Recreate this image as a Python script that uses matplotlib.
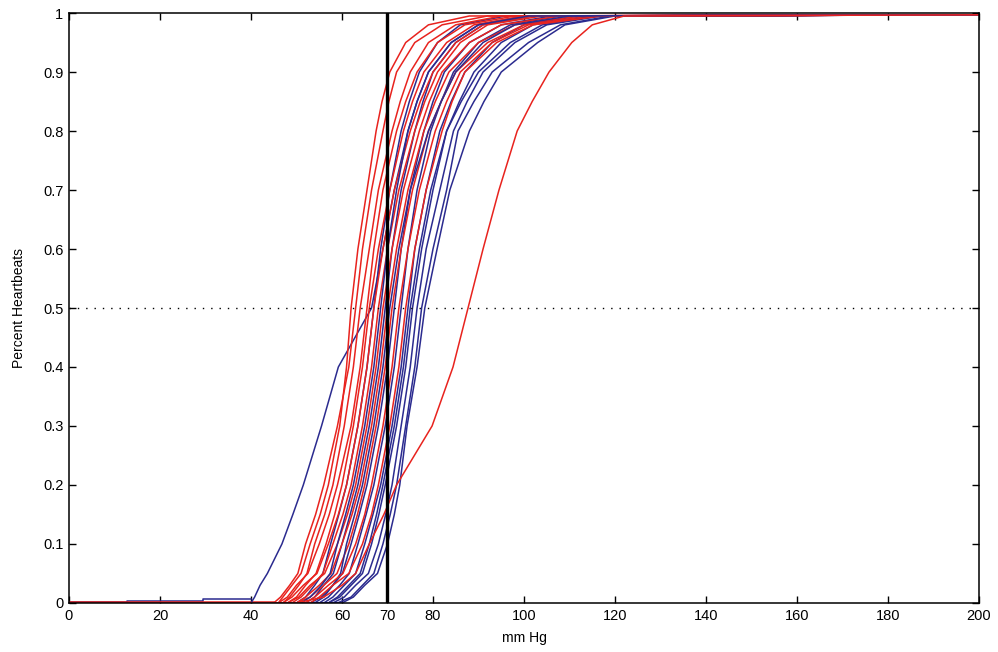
import numpy as np
import matplotlib
matplotlib.use("Agg")
import matplotlib.pyplot as plt
from matplotlib.ticker import FormatStrFormatter

plt.rcParams['font.family'] = ['Liberation Sans', 'DejaVu Sans']

levels = [0, 0.01, 0.03, 0.05, 0.1, 0.15, 0.2, 0.3, 0.4, 0.5, 0.6, 0.7,
          0.8, 0.85, 0.9, 0.95, 0.98, 0.995]

# mm Hg at each level, red group
red_curves = [
    [46, 47, 49, 51, 53, 55.2, 57, 59.5, 61, 62, 63.5, 65.5, 67.5, 68.8, 70.5, 74, 79, 88],
    [45, 46.5, 48.5, 50.3, 52, 54.2, 56, 59, 61.5, 63, 64.5, 66.5, 69, 70.3, 72, 76, 82, 92],
    [47, 48.5, 50.5, 52.3, 54, 56.2, 58, 60.5, 62.5, 64, 66, 68, 71, 72.8, 75, 79, 85, 95],
    [46, 48, 50, 52.5, 55, 57.2, 59, 62, 64, 65.5, 67, 69, 72, 74, 76.5, 81, 87, 98],
    [48, 50, 52, 54.3, 56.5, 58.4, 60, 62.5, 64.5, 66, 68, 70.5, 73.5, 75.5, 78, 83, 89, 100],
    [47, 49, 51.5, 54.5, 57, 59.2, 61, 63.5, 65.5, 67, 69, 71.5, 75, 77.2, 80, 85, 91, 102],
    [49, 51, 53.5, 55.8, 58, 60.2, 62, 64.5, 66.5, 68, 70, 72.5, 76, 78.2, 81, 86, 92, 104],
    [48, 50.5, 53, 56.2, 59, 61.2, 63, 65.5, 67.5, 69, 71, 73.5, 77, 79.2, 82, 88, 95, 108],
    [50, 52, 55, 57.6, 60, 62.2, 64, 66.5, 68.5, 70, 72, 74.5, 78, 80.5, 83.5, 90, 98, 112],
    [50, 53, 56, 58.9, 61.5, 63.4, 65, 67.5, 69.5, 71, 73, 75.5, 79, 81.8, 85, 92, 100, 115],
    [52, 54, 57, 60.2, 63, 65, 66.5, 69, 71, 72.5, 74.5, 77, 80.5, 83, 86, 93, 101, 116],
    [53, 55, 58, 61.5, 64.5, 66.5, 68, 70.5, 72.5, 74, 76, 78.5, 82, 84.2, 87, 94, 102, 117],
    [50, 56, 60, 63, 66, 69.2, 72, 79.8, 84.4, 87.7, 91, 94.5, 98.5, 101.8, 105.5, 110.5, 115, 122],
]

# mm Hg at each level, blue group
blue_curves = [
    [40, 40.8, 42, 43.6, 46.8, 49.2, 51.5, 55.5, 59.2, 66.5, 69, 71.5, 74.5, 76.5, 79, 84, 90, 100],
    [50, 52, 54, 55.8, 57.5, 59.3, 61, 63.5, 65.5, 67, 68.5, 70.5, 73, 74.8, 77, 81, 86, 96],
    [52, 54, 56, 58.1, 60, 61.8, 63.5, 66, 68, 69.5, 71, 73, 76, 77.8, 80, 85, 91, 102],
    [54, 56, 58, 60.1, 62, 63.8, 65.5, 68, 70, 71.5, 73, 75, 78, 80, 82.5, 88, 95, 106],
    [55, 57, 59.5, 61.6, 63.5, 65.3, 67, 69.5, 71.5, 73, 74.5, 76.5, 79.5, 81.8, 84.5, 90, 97, 108],
    [56, 58, 60.5, 63, 65, 66.8, 68.5, 71, 73, 74.5, 76, 78.5, 81.5, 84, 87, 93, 100, 112],
    [57, 59.5, 62, 64.5, 66.5, 68.1, 69.5, 72, 74, 75.5, 77.5, 80, 83, 85.8, 89, 95, 102, 114],
    [58, 60.5, 63, 65.8, 68, 69.6, 71, 73, 75, 76.5, 78.5, 81.5, 84.5, 87.5, 91, 98, 105, 117],
    [59, 62, 64.5, 67, 69, 70.6, 72, 74, 76, 77.5, 80, 83, 85.5, 89, 93, 101, 108, 119],
    [60, 62.5, 65, 67.8, 70, 71.5, 72.7, 74.3, 76.5, 78.2, 80.9, 83.7, 88, 91.2, 95, 103, 109, 120],
    [53, 55.5, 58, 59.7, 61, 62.8, 64.5, 67, 69, 70.5, 72.5, 75, 79, 81.8, 85, 91, 98, 110],
    [57, 59, 61.5, 64, 66, 67.6, 69, 71.5, 73.5, 75, 77, 79.5, 83, 86.2, 90, 97, 104, 116],
    [51, 53, 55.5, 57.4, 59, 60.8, 62.5, 65, 67, 68.5, 70, 72, 74.5, 76.5, 79, 84, 90, 101],
]

# low tails before the rise (mm Hg, fraction)
blue_tail_x = [0, 12.7, 12.7, 29.5, 29.5, 40]
blue_tail_y = [0.001, 0.001, 0.004, 0.004, 0.006, 0.006]
red_tail_x = [0, 45]
red_tail_y = [0.002, 0.002]

plateau = 0.997
threshold = 70

red = '#e8231e'
blue = '#2b2b8f'

fig = plt.figure(figsize=(9.98, 6.52), dpi=100)
ax = fig.add_axes([0.0691, 0.0752, 0.9119, 0.9048])

ax.plot(blue_tail_x, blue_tail_y, color=blue, lw=1.1)
ax.plot(red_tail_x, red_tail_y, color=red, lw=1.1)

# interleave colours so neither group sits fully on top
n = max(len(red_curves), len(blue_curves))
for k in range(n):
    for curves, c in ((blue_curves, blue), (red_curves, red)):
        if k < len(curves):
            xs = [0] + curves[k] + [200]
            ys = [0] + levels + [plateau]
            ax.plot(xs, ys, color=c, lw=1.1)

ax.axhline(0.5, color='black', lw=1.0, ls=(0, (1, 5)))
ax.axvline(threshold, color='black', lw=2.4, zorder=5)

ax.set_xlim(0, 200)
ax.set_ylim(0, 1)
ax.set_xticks([0, 20, 40, 60, 70, 80, 100, 120, 140, 160, 180, 200])
ax.set_yticks(np.arange(0, 1.01, 0.1))
ax.yaxis.set_major_formatter(FormatStrFormatter('%g'))
ax.tick_params(direction='in', top=True, right=True, length=5, width=1,
               labelsize=10.5, pad=4)
for s in ax.spines.values():
    s.set_linewidth(1.1)

ax.set_xlabel("mm Hg", fontsize=10, labelpad=6)
ax.set_ylabel("Percent Heartbeats", fontsize=10, labelpad=12)

plt.savefig("out.png", dpi=100)
plt.close()
